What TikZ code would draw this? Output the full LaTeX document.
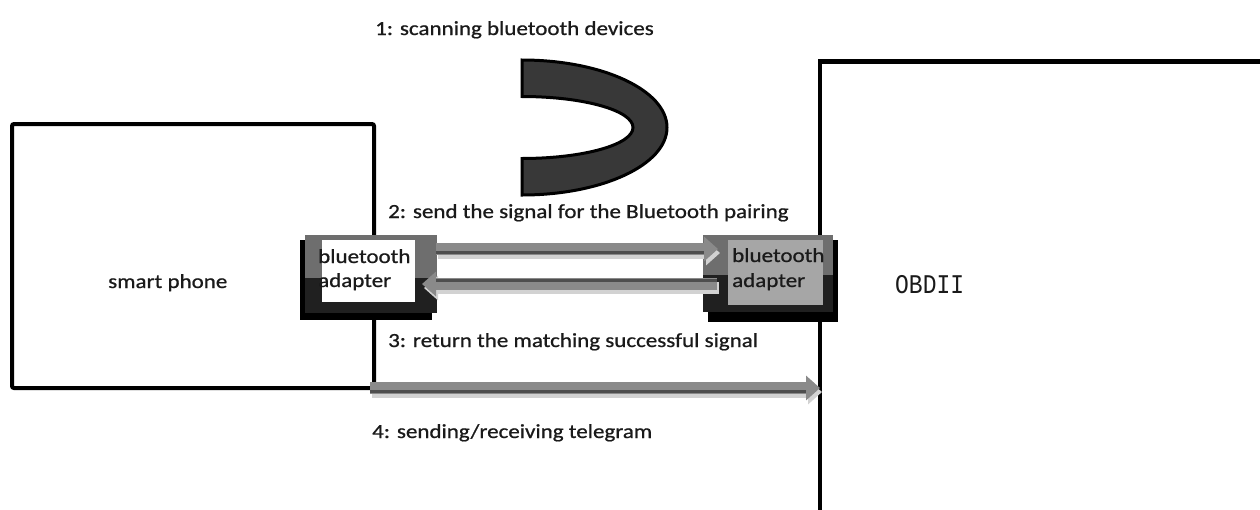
\documentclass[tikz,border=0pt]{standalone}
\usepackage{fontspec}
\usetikzlibrary{arrows.meta}
\newfontfamily\lblfont[FakeStretch=1.15,FakeBold=0.8]{Carlito}
\newfontfamily\obdfont[FakeStretch=0.85]{Liberation Mono}
\definecolor{panelgray}{HTML}{6E6E6E}
\definecolor{paneldark}{HTML}{202020}
\definecolor{innerR}{HTML}{A6A6A6}
\definecolor{arrgray}{HTML}{8A8A8A}
\definecolor{arrdark}{HTML}{4E4E4E}
\definecolor{arrshadow}{HTML}{D2D2D2}
\definecolor{shoe}{HTML}{383838}
\definecolor{txt}{HTML}{1A1A1A}
\tikzset{
  lbl/.style={font=\lblfont\fontsize{20}{24}\selectfont, text=txt, inner sep=0pt},
  boxline/.style={draw=black, line width=4pt},
  blockarrow/.style={draw=arrgray, line width=12pt, -{Triangle[length=14pt,width=24pt]}},
  blockshadow/.style={draw=arrshadow, line width=12pt, -{Triangle[length=14pt,width=24pt]}},
  stripe/.style={draw=arrdark, line width=3pt},
  innerbox/.style={inner sep=0pt, anchor=north west},
}
\begin{document}
\begin{tikzpicture}[x=1pt,y=-1pt]
\useasboundingbox (0,0) rectangle (1260,509);
\fill[white] (0,0) rectangle (1260,509);

% smart phone box
\node[boxline, rounded corners=2pt, minimum width=362pt, minimum height=264pt, innerbox] (phone) at (10,122) {};
\node[lbl, anchor=base west] (phonetxt) at (108,288) {smart phone};

% OBDII box (top and left edges visible)
\draw[line width=4.5pt, line cap=rect] (1262,61.5) -- (820,61.5) -- (820,511);
\coordinate (obdleft) at (820,388);
\node[font=\obdfont\fontsize{27}{30}\selectfont, text=txt, inner sep=0pt, anchor=base west] (obd) at (895,293) {OBDII};

% horseshoe
\filldraw[fill=shoe, draw=black, line width=3pt]
  (522,60) arc[start angle=-90, end angle=90, x radius=145, y radius=67.5]
  -- (522,158.5) arc[start angle=90, end angle=-90, x radius=111, y radius=31] -- cycle;

% left adapter panel
\fill[black] (300,240) rectangle (432,320);
\fill[panelgray] (305,235) rectangle (437,278);
\fill[paneldark] (305,278) rectangle (437,313);
\node[fill=white, minimum width=93pt, minimum height=62pt, innerbox] (ladp) at (322,240) {};

% right adapter panel
\fill[black] (708,240) rectangle (838,322);
\fill[panelgray] (703,235) rectangle (833,275);
\fill[paneldark] (703,275) rectangle (833,312);
\node[fill=innerR, minimum width=95pt, minimum height=65pt, innerbox] (radp) at (728,240) {};

% arrow coordinates
\coordinate (a2s) at (436,249);
\coordinate (a2e) at (718,249);
\coordinate (a3s) at (717,284);
\coordinate (a3e) at (422,284);
\coordinate (a4s) at (370,388);

% arrow 2
\draw[blockshadow] ([shift={(2pt,-4pt)}]a2s) -- ([shift={(2pt,-4pt)}]a2e);
\draw[blockarrow] (a2s) -- (a2e);
\draw[stripe] ([yshift=-3.5pt]a2s) -- ([shift={(-14pt,-3.5pt)}]a2e);
% arrow 3
\draw[blockshadow] ([shift={(2pt,-4pt)}]a3s) -- ([shift={(2pt,-4pt)}]a3e);
\draw[blockarrow] (a3s) -- (a3e);
\draw[stripe] ([yshift=3.5pt]a3s) -- ([shift={(14pt,3.5pt)}]a3e);
% arrow 4
\draw[blockshadow] ([shift={(2pt,-4pt)}]a4s) -- ([shift={(2pt,-4pt)}]obdleft);
\draw[blockarrow] (a4s) -- (obdleft);
\draw[stripe] ([yshift=-3pt]a4s) -- ([shift={(-14pt,-3pt)}]obdleft);

% adapter texts
\node[lbl, anchor=base west] (lb1) at (318,263) {bluetooth};
\node[lbl, anchor=base west] (lb2) at (318,287) {adapter};
\node[lbl, anchor=base west] (rb1) at (732,262) {bluetooth};
\node[lbl, anchor=base west] (rb2) at (732,287) {adapter};

% step labels
\node[lbl, anchor=base west] (s1) at (375,35) {1: scanning bluetooth devices};
\node[lbl, anchor=base west] (s2) at (388,218) {2: send the signal for the Bluetooth pairing};
\node[lbl, anchor=base west] (s3) at (388,347) {3: return the matching successful signal};
\node[lbl, anchor=base west] (s4) at (372,438) {4: sending/receiving telegram};
\end{tikzpicture}
\end{document}
